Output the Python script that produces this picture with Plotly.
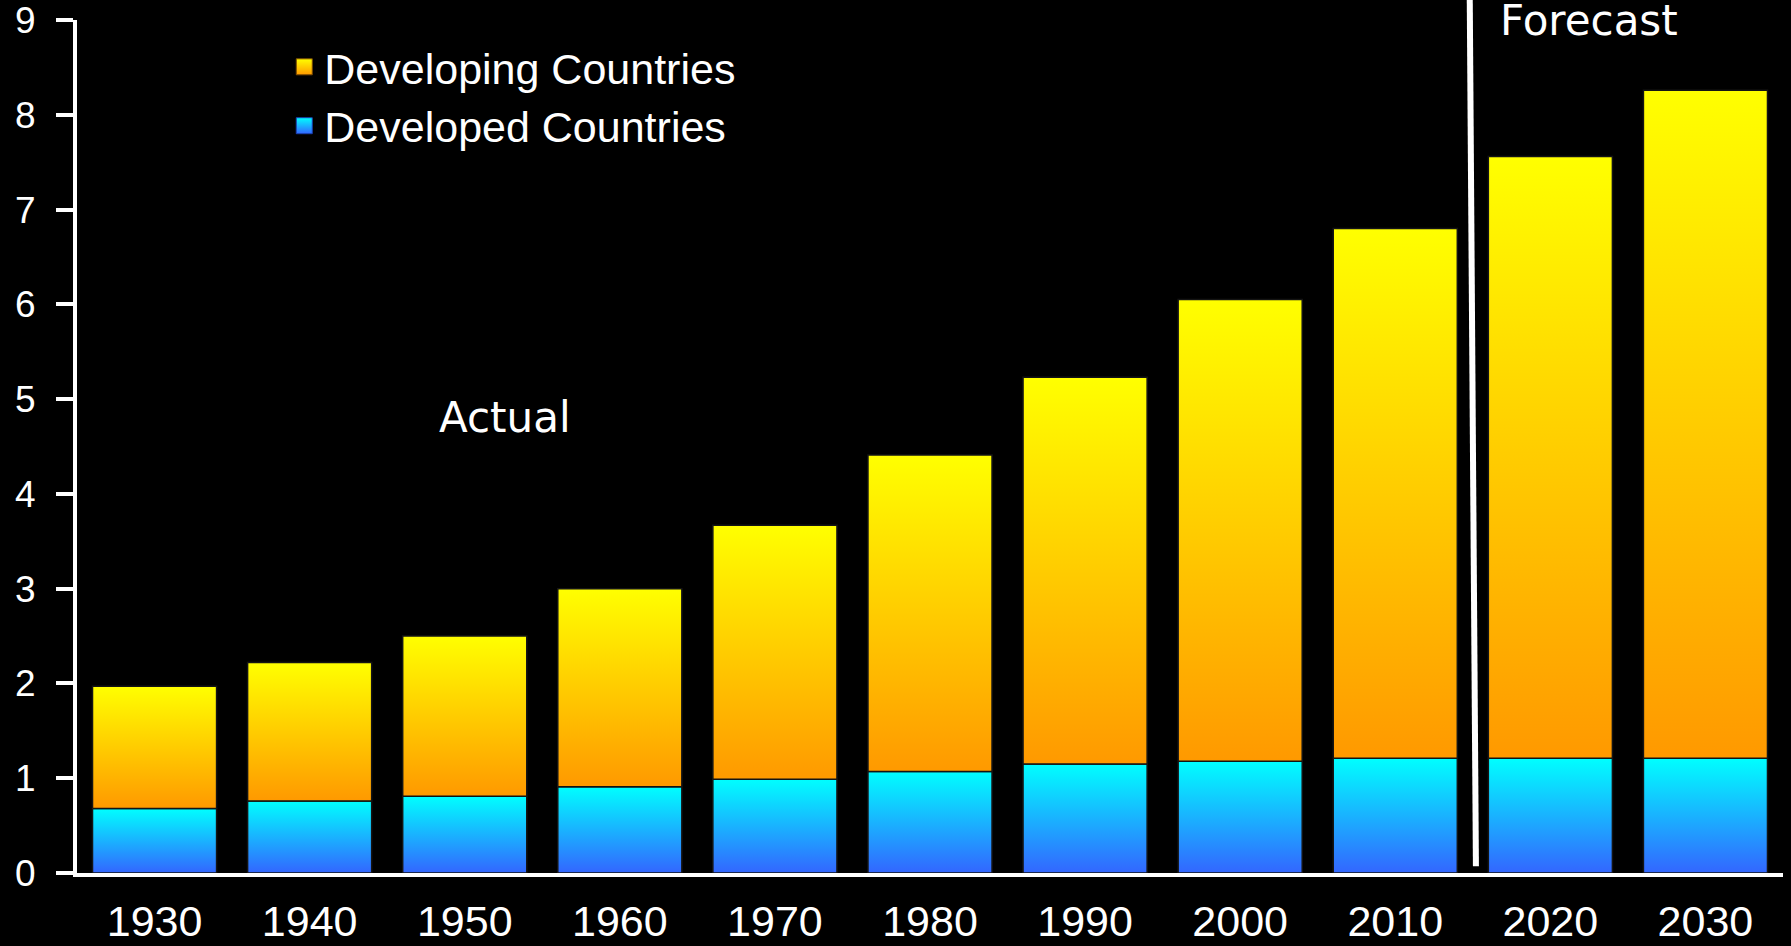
import plotly.graph_objects as go

# ---------------- data ----------------
years = [1930, 1940, 1950, 1960, 1970, 1980, 1990, 2000, 2010, 2020, 2030]
year_labels = [str(y) for y in years]
developed = [0.68, 0.76, 0.81, 0.91, 0.99, 1.07, 1.15, 1.18, 1.21, 1.21, 1.21]
developing = [1.29, 1.46, 1.69, 2.09, 2.68, 3.34, 4.08, 4.87, 5.59, 6.35, 7.05]
y_tick_values = [0, 1, 2, 3, 4, 5, 6, 7, 8, 9]
series_names = ["Developing Countries", "Developed Countries"]
forecast_split = 2015
# --------------------------------------

BAR_WIDTH = 8  # in years (0.8 of a 10-year slot)
ORANGE, YELLOW = "#FF9900", "#FFFF00"
BLUE, CYAN = "#3366FF", "#00FFFF"

fig = go.Figure()


def add_bar(x, base, value, low_color, high_color, name):
    x0, x1 = x - BAR_WIDTH / 2, x + BAR_WIDTH / 2
    y0, y1 = base, base + value
    fig.add_trace(go.Scatter(
        x=[x0, x1, x1, x0, x0], y=[y0, y0, y1, y1, y0],
        mode="lines", fill="toself",
        fillgradient=dict(type="vertical",
                          colorscale=[[0, low_color], [1, high_color]]),
        line=dict(color="#141414", width=1.5),
        name=name, showlegend=False, hoveron="fills",
        hovertemplate=f"{name}<br>{x}: {value:.2f}<extra></extra>",
    ))


for yr, dv, dg in zip(years, developed, developing):
    add_bar(yr, 0, dv, BLUE, CYAN, series_names[1])
    add_bar(yr, dv, dg, ORANGE, YELLOW, series_names[0])

# legend entries
fig.add_trace(go.Scatter(
    x=[None], y=[None], mode="markers", name=series_names[0],
    marker=dict(symbol="square", size=16, color=YELLOW,
                gradient=dict(type="vertical", color=ORANGE),
                line=dict(color="#7a4a00", width=1)),
))
fig.add_trace(go.Scatter(
    x=[None], y=[None], mode="markers", name=series_names[1],
    marker=dict(symbol="square", size=16, color=CYAN,
                gradient=dict(type="vertical", color=BLUE),
                line=dict(color="#1a3fb0", width=1)),
))

# forecast divider line
fig.add_shape(type="line", xref="x", yref="paper",
              x0=forecast_split + 0.2, x1=forecast_split - 0.2,
              y0=0.008, y1=1.03,
              line=dict(color="white", width=6))

fig.add_annotation(text="Actual", x=1952.6, y=4.81, xref="x", yref="y",
                   showarrow=False,
                   font=dict(family="DejaVu Sans", size=42, color="white"))
fig.add_annotation(text="Forecast", x=2022.5, y=1.031, xref="x", yref="paper",
                   showarrow=False,
                   font=dict(family="DejaVu Sans", size=42, color="white"))

fig.update_layout(
    width=1791, height=946,
    paper_bgcolor="black", plot_bgcolor="black",
    margin=dict(l=77, r=8, t=20, b=73),
    font=dict(family="Liberation Sans, Arial, sans-serif", color="white"),
    showlegend=True,
    legend=dict(x=0.1215, y=0.9855, xanchor="left", yanchor="top",
                traceorder="normal", bgcolor="rgba(0,0,0,0)",
                font=dict(size=43, color="white"), itemsizing="trace",
                tracegroupgap=0),
    xaxis=dict(range=[1925, 2035], tickmode="array", tickvals=years,
               ticktext=year_labels, showgrid=False, zeroline=False,
               showline=True, linecolor="white", linewidth=4,
               ticks="", tickfont=dict(size=43, color="white"),
               ticklabelstandoff=7, automargin=False, fixedrange=True),
    yaxis=dict(range=[0, 9], tickmode="array", tickvals=y_tick_values,
               showgrid=False, zeroline=False, showline=True,
               linecolor="white", linewidth=4, ticks="outside",
               ticklen=17, tickwidth=4, tickcolor="white",
               tickfont=dict(size=37, color="white"),
               ticklabelstandoff=13, ticklabeloverflow="allow",
               automargin=False, fixedrange=True),
)

fig.write_html("out.html")
